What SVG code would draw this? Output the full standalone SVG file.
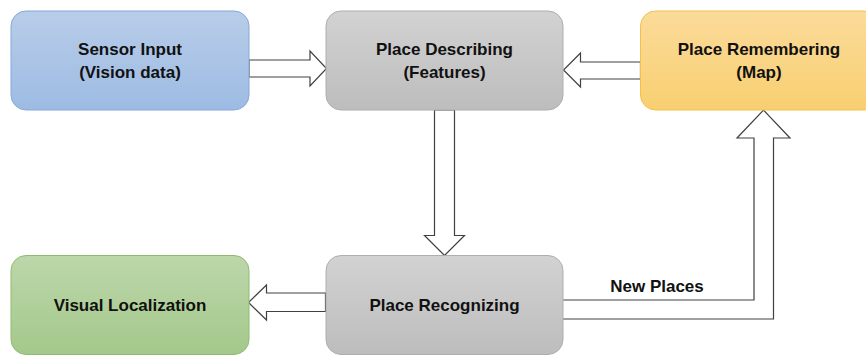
<svg xmlns="http://www.w3.org/2000/svg" width="866" height="356" viewBox="0 0 866 356">
  <defs>
    <linearGradient id="gBlue" x1="0" y1="0" x2="0" y2="1">
      <stop offset="0" stop-color="#b8cde9"/>
      <stop offset="1" stop-color="#9dbbe3"/>
    </linearGradient>
    <linearGradient id="gGray" x1="0" y1="0" x2="0" y2="1">
      <stop offset="0" stop-color="#d2d2d2"/>
      <stop offset="1" stop-color="#bdbdbd"/>
    </linearGradient>
    <linearGradient id="gOrange" x1="0" y1="0" x2="0" y2="1">
      <stop offset="0" stop-color="#fbdb9b"/>
      <stop offset="1" stop-color="#f8cf70"/>
    </linearGradient>
    <linearGradient id="gGreen" x1="0" y1="0" x2="0" y2="1">
      <stop offset="0" stop-color="#bcd7aa"/>
      <stop offset="1" stop-color="#a4c88b"/>
    </linearGradient>
  </defs>
  <style>
    .lbl { font-family: "Liberation Sans", Arial, sans-serif; font-weight: bold; font-size: 17px; fill: #111; text-anchor: middle; }
    .arrow { fill: #ffffff; stroke: #404040; stroke-width: 1.2; stroke-linejoin: miter; }
  </style>
  <rect width="866" height="356" fill="#ffffff"/>

  <g id="connectors">
    <path class="arrow" d="M249,60 H310 V51 L326.5,68.5 L310,86 V77 H249 Z"/>
    <path class="arrow" d="M640.5,62 H580.5 V53 L563.5,70 L580.5,87 V79 H640.5 Z"/>
    <path class="arrow" d="M434.5,110 V235.5 H424.5 L444.5,255.5 L464.5,235.5 H454.5 V110 Z"/>
    <path class="arrow" d="M325.5,293 H266.5 V285 L248.5,302.5 L266.5,320 V311.5 H325.5 Z"/>
    <path class="arrow" d="M560,300 H754 V138 H737 L763.5,110 L790,138 H773.5 V319 H560 Z"/>
    <text class="lbl" x="657" y="292">New Places</text>
  </g>

  <g id="sensor-input">
    <rect x="11" y="11" width="238" height="99" rx="15" fill="url(#gBlue)" stroke="#84a9d9" stroke-width="1"/>
    <text class="lbl" x="130" y="55">Sensor Input</text>
    <text class="lbl" x="130" y="78">(Vision data)</text>
  </g>

  <g id="place-describing">
    <rect x="326" y="11" width="237" height="99" rx="15" fill="url(#gGray)" stroke="#aeaeae" stroke-width="1"/>
    <text class="lbl" x="444.5" y="55">Place Describing</text>
    <text class="lbl" x="444.5" y="78">(Features)</text>
  </g>

  <g id="place-remembering">
    <rect x="640.5" y="11" width="238" height="99" rx="15" fill="url(#gOrange)" stroke="#f3c04c" stroke-width="1"/>
    <text class="lbl" x="759" y="55">Place Remembering</text>
    <text class="lbl" x="759" y="78">(Map)</text>
  </g>

  <g id="place-recognizing">
    <rect x="326" y="255.5" width="237" height="99" rx="15" fill="url(#gGray)" stroke="#aeaeae" stroke-width="1"/>
    <text class="lbl" x="444.5" y="311">Place Recognizing</text>
  </g>

  <g id="visual-localization">
    <rect x="11" y="255.5" width="238" height="99" rx="15" fill="url(#gGreen)" stroke="#8fbb70" stroke-width="1"/>
    <text class="lbl" x="130" y="311">Visual Localization</text>
  </g>
</svg>
